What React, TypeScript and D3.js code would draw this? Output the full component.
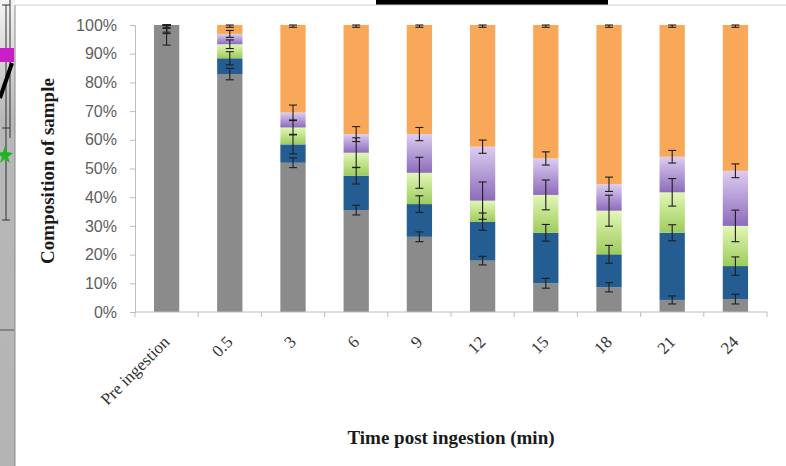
import React, { useEffect, useRef } from 'react';
import * as d3 from 'd3';

const width = 786;
const height = 466;
const margin = { top: 25, left: 135, right: 19, bottom: 154 };

const categories = ['Pre ingestion', '0.5', '3', '6', '9', '12', '15', '18', '21', '24'];
// composition, % of sample (bottom to top of each bar)
const grey = [100, 82.9, 52.0, 35.5, 26.2, 17.9, 10.0, 8.6, 4.2, 4.5];
const blue = [0, 5.5, 6.4, 12.0, 11.4, 13.6, 17.6, 11.5, 23.4, 11.5];
const green = [0, 4.9, 5.9, 8.0, 10.9, 7.3, 13.2, 15.2, 14.1, 14.0];
const purple = [0, 3.6, 5.2, 6.5, 13.5, 18.8, 12.7, 9.2, 12.4, 19.2];
const orange = [0, 3.1, 30.5, 38.0, 38.0, 42.4, 46.5, 55.5, 45.9, 50.8];
// error bar half-widths, %
const greyErr = [7, 2.0, 1.7, 1.7, 1.7, 1.5, 1.7, 1.6, 1.4, 1.7];
const blueErr = [3, 2.3, 3.3, 2.9, 2.9, 3.0, 2.9, 3.1, 2.8, 3.2];
const greenErr = [2.5, 1.5, 2.4, 5.2, 5.4, 6.5, 5.2, 5.4, 4.8, 5.5];
const purpleErr = [1.2, 1.2, 2.6, 2.6, 2.3, 2.3, 2.3, 2.5, 2.2, 2.4];
const orangeErr = [0.8, 0.8, 0.8, 0.8, 0.8, 0.8, 0.8, 0.8, 0.8, 0.8];
const yTicks = [0, 10, 20, 30, 40, 50, 60, 70, 80, 90, 100];

const keys = ['grey', 'blue', 'green', 'purple', 'orange'];
const values: Record<string, number[]> = { grey, blue, green, purple, orange };
const errors: Record<string, number[]> = { grey: greyErr, blue: blueErr, green: greenErr, purple: purpleErr, orange: orangeErr };
const fills: Record<string, string> = {
  grey: '#8b8b8b',
  blue: '#245d92',
  green: 'url(#grad-green)',
  purple: 'url(#grad-purple)',
  orange: '#f9a859',
};

export default function App() {
  const ref = useRef<SVGSVGElement>(null);

  useEffect(() => {
    const svg = d3.select(ref.current);
    svg.selectAll('.chart').remove();
    const g = svg.append('g').attr('class', 'chart');

    const rows = categories.map((c, i) => {
      const r: any = { cat: c };
      keys.forEach(k => (r[k] = values[k][i]));
      return r;
    });
    const stacked = d3.stack().keys(keys)(rows);

    const x = d3.scaleBand().domain(categories)
      .range([margin.left, width - margin.right])
      .paddingInner(0.6).paddingOuter(0.3);
    const y = d3.scaleLinear().domain([0, 100]).range([height - margin.bottom, margin.top]);

    // bars
    g.append('g')
      .selectAll('g')
      .data(stacked)
      .join('g')
      .attr('fill', d => fills[d.key])
      .selectAll('rect')
      .data(d => d)
      .join('rect')
      .attr('x', d => x(d.data.cat as string)!)
      .attr('width', x.bandwidth())
      .attr('y', d => y(d[1]))
      .attr('height', d => y(d[0]) - y(d[1]));

    // error bars at the top of each segment
    const eb = g.append('g').attr('stroke', '#1e1e1e').attr('stroke-width', 1.1);
    stacked.forEach(s => {
      s.forEach((d, i) => {
        const cx = x(categories[i])! + x.bandwidth() / 2;
        const e = errors[s.key][i];
        const lo = y(Math.max(0, d[1] - e));
        const hi = y(Math.min(100, d[1] + e));
        eb.append('line').attr('x1', cx).attr('x2', cx).attr('y1', lo).attr('y2', hi);
        eb.append('line').attr('x1', cx - 4).attr('x2', cx + 4).attr('y1', lo).attr('y2', lo);
        eb.append('line').attr('x1', cx - 4).attr('x2', cx + 4).attr('y1', hi).attr('y2', hi);
      });
    });

    // y axis
    g.append('g')
      .attr('transform', `translate(${margin.left},0)`)
      .call(d3.axisLeft(y).tickValues(yTicks).tickSize(5).tickPadding(13).tickFormat(d => `${d}%`))
      .call(a => a.select('.domain').attr('stroke', '#bdbdbd'))
      .call(a => a.selectAll('.tick line').attr('stroke', '#bdbdbd'))
      .call(a => a.selectAll('.tick text')
        .attr('fill', '#5e5e5e')
        .attr('font-family', 'Liberation Sans')
        .attr('font-size', 16));

    // x axis
    const step = x.step();
    const x0 = x(categories[0])! - (step - x.bandwidth()) / 2;
    const xa = g.append('g').attr('stroke', '#bdbdbd');
    const base = y(0);
    xa.append('line').attr('x1', margin.left).attr('x2', width - margin.right).attr('y1', base).attr('y2', base);
    d3.range(categories.length + 1).forEach(i => {
      xa.append('line').attr('x1', x0 + i * step).attr('x2', x0 + i * step).attr('y1', base).attr('y2', base + 5);
    });
    g.append('g')
      .selectAll('text')
      .data(categories)
      .join('text')
      .attr('transform', d => `translate(${x(d)! + x.bandwidth() / 2 + 4},${base + 31}) rotate(-45)`)
      .attr('text-anchor', 'end')
      .attr('font-family', 'Liberation Serif')
      .attr('font-size', 17)
      .attr('fill', '#333')
      .text(d => d);

    // titles
    g.append('text')
      .attr('transform', `translate(54,171) rotate(-90)`)
      .attr('text-anchor', 'middle')
      .attr('font-family', 'Liberation Serif')
      .attr('font-weight', 'bold')
      .attr('font-size', 19)
      .attr('fill', '#1a1a1a')
      .text('Composition of sample');
    g.append('text')
      .attr('x', 451)
      .attr('y', 444)
      .attr('text-anchor', 'middle')
      .attr('font-family', 'Liberation Serif')
      .attr('font-weight', 'bold')
      .attr('font-size', 19)
      .attr('fill', '#1a1a1a')
      .text('Time post ingestion (min)');
  }, []);

  return (
    <svg ref={ref} width={width} height={height} style={{ position: 'absolute', left: 0, top: 0, background: '#fff' }}>
      <defs>
        <linearGradient id='grad-green' x1='0' y1='0' x2='0' y2='1'>
          <stop offset='0' stopColor='#e2f7b6' />
          <stop offset='1' stopColor='#9dcb5c' />
        </linearGradient>
        <linearGradient id='grad-purple' x1='0' y1='0' x2='0' y2='1'>
          <stop offset='0' stopColor='#dccdf1' />
          <stop offset='1' stopColor='#8d6bbb' />
        </linearGradient>
        <linearGradient id='grad-side' x1='0' y1='0' x2='0' y2='1'>
          <stop offset='0' stopColor='#f4f4f4' />
          <stop offset='0.25' stopColor='#b8b8b8' />
          <stop offset='1' stopColor='#b4b4b4' />
        </linearGradient>
      </defs>
      {/* screenshot surroundings */}
      <rect x={0} y={0} width={15} height={height} fill='url(#grad-side)' />
      <line x1={15} x2={15} y1={5} y2={height} stroke='#8a8a8a' />
      <rect x={376} y={0} width={232} height={5} fill='#000' />
      <line x1={15} x2={width} y1={5} y2={5} stroke='#cfcfcf' />
      <line x1={6} x2={6} y1={5} y2={220} stroke='#333' />
      <line x1={2} x2={10} y1={5} y2={5} stroke='#333' />
      <line x1={2} x2={10} y1={128} y2={128} stroke='#333' />
      <line x1={2} x2={10} y1={220} y2={220} stroke='#333' />
      <line x1={10} x2={10} y1={0} y2={138} stroke='#333' />
      <rect x={0} y={48} width={14} height={14} fill='#c81fc8' />
      <line x1={0} x2={12} y1={98} y2={63} stroke='#000' strokeWidth={4} />
      <polygon points='5,146 7,152 13,153 8,157 10,163 5,159 0,163 2,157 -3,153 3,152' fill='#22b322' />
      <line x1={0} x2={14} y1={330} y2={330} stroke='#555' />
    </svg>
  );
}
